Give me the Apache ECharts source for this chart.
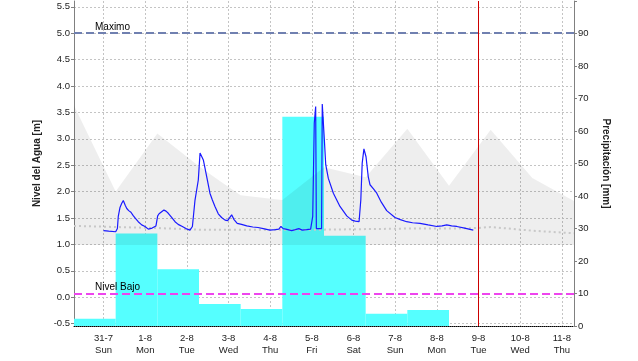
<!DOCTYPE html>
<html><head><meta charset="utf-8">
<script src="https://cdn.jsdelivr.net/npm/echarts@6/dist/echarts.min.js"></script>
<style>html,body{margin:0;padding:0;background:#fff}#c{width:638px;height:361px}</style>
</head><body><div id="c"></div>
<script>
// hours since 31-7 00:00
const dayTicks = [0,24,48,72,96,120,144,168,192,216,240,264];
const dayLabels = ['31-7','1-8','2-8','3-8','4-8','5-8','6-8','7-8','8-8','9-8','10-8','11-8'];
const weekdays = ['Sun','Mon','Tue','Wed','Thu','Fri','Sat','Sun','Mon','Tue','Wed','Thu'];
const levelTicks = [-0.5,0,0.5,1,1.5,2,2.5,3,3.5,4,4.5,5,5.5];

// daily precipitation (07:00 -> 07:00), mm
const rainStart = [-17,7,31,55,79,103,127,151,175];
const rainMm = [2.2,28.5,17.5,6.8,5.2,64.4,27.8,3.8,4.9];

// observed water level (m)
const levelH = [0,3,7,8,8.5,9.5,10.5,11.4,12.5,13.4,14.5,15.8,17,18.5,20,22,23.9,25.8,28,30.2,31.2,32,33,34.8,36,37.3,39,41.2,43,45.4,47.5,49.8,51.2,52.7,54.6,55.6,56.3,57.5,59.4,61.3,62.7,64.2,66.1,68,70,71.5,73.8,75.2,77,79.5,82.5,86,89,92,95.9,99,101,102.2,103.5,105,108.4,110.5,112.5,114.5,117,119.3,120.5,121.4,122.2,122.6,125.6,126,127.2,128,129.5,132.4,136.2,140.1,143,145,147.2,148.2,149,150,151.2,152.5,153.5,155.5,157.4,160,163.1,167.9,171,174.6,178,182.3,187,192,195,197.7,200.5,203.5,208,213];
const levelM = [1.26,1.25,1.24,1.30,1.53,1.70,1.78,1.83,1.74,1.68,1.64,1.61,1.55,1.49,1.43,1.37,1.34,1.29,1.31,1.35,1.54,1.58,1.61,1.65,1.63,1.59,1.52,1.43,1.38,1.34,1.30,1.27,1.34,1.84,2.22,2.73,2.74,2.60,2.29,1.97,1.84,1.72,1.58,1.51,1.46,1.45,1.56,1.47,1.40,1.38,1.35,1.33,1.32,1.30,1.27,1.28,1.29,1.34,1.30,1.29,1.26,1.28,1.30,1.27,1.28,1.29,1.53,3.30,3.61,1.30,1.30,3.66,2.98,2.51,2.25,1.97,1.72,1.54,1.46,1.44,1.43,1.84,2.54,2.81,2.66,2.28,2.13,2.05,1.97,1.80,1.64,1.51,1.47,1.43,1.41,1.40,1.37,1.34,1.35,1.37,1.35,1.34,1.31,1.27];

// historical envelope (m)
const bandH = [-17,7,31,55,67,79,103,127,151,175,199,223,247,271];
const bandLow = [0.99,0.99,0.99,0.99,0.99,0.99,0.99,0.99,0.99,0.99,0.99,0.99,0.99,0.99];
const bandHigh = [3.63,2.0,3.1,2.48,2.2,1.93,1.84,2.46,2.27,3.19,2.11,3.17,2.26,1.82];
// reference (mean) level (m)
const meanH = [-17,7,31,55,79,103,127,151,175,199,215,223,247,271];
const meanM = [1.35,1.33,1.31,1.28,1.28,1.28,1.28,1.29,1.30,1.30,1.31,1.33,1.26,1.21];

const maxLevel = 5.0, lowLevel = 0.07, nowH = 216;

const font = 'Liberation Sans, Arial, sans-serif';
const chart = echarts.init(document.getElementById('c'), null, {renderer:'canvas'});
const gridDot = {color:'#c4c4c4', type:[2,2], width:1};

chart.setOption({
  animation:false,
  backgroundColor:'#fff',
  grid:{left:74, right:64, top:1, bottom:35, containLabel:false},
  xAxis:{
    type:'value', min:-17, max:271,
    axisLine:{show:true, onZero:false, lineStyle:{color:'#000', type:[1,1], width:1}},
    axisTick:{show:false, customValues:dayTicks},
    axisLabel:{customValues:dayTicks, margin:6, fontSize:9.5, lineHeight:12, color:'#222', fontFamily:font,
      formatter:(v)=>{const i=dayTicks.indexOf(Math.round(v)); return i<0?'':dayLabels[i]+'\n'+weekdays[i];}},
    splitLine:{show:true, lineStyle:gridDot}
  },
  yAxis:[{
    type:'value', position:'left', min:-0.545, max:5.61,
    name:'Nivel del Agua [m]', nameLocation:'middle', nameGap:27, nameRotate:90,
    nameTextStyle:{fontSize:10, fontWeight:'bold', color:'#222', fontFamily:font},
    axisLine:{show:true, onZero:false, lineStyle:{color:'#808080'}},
    axisTick:{show:true, length:3, customValues:levelTicks, lineStyle:{color:'#808080'}},
    axisLabel:{customValues:levelTicks, margin:4, fontSize:9.5, color:'#222', fontFamily:font, formatter:(v)=>v.toFixed(1)},
    splitLine:{show:true, lineStyle:gridDot}
  },{
    type:'value', position:'right', min:0, max:100, interval:10,
    name:'Precipitación [mm]', nameLocation:'middle', nameGap:27, nameRotate:-90,
    nameTextStyle:{fontSize:10, fontWeight:'bold', color:'#222', fontFamily:font},
    axisLine:{show:true, onZero:false, lineStyle:{color:'#808080'}},
    axisTick:{show:true, length:3, lineStyle:{color:'#808080'}},
    axisLabel:{margin:4, fontSize:9.5, color:'#222', fontFamily:font, formatter:(v)=>v>=100?'':String(v)},
    splitLine:{show:false}
  }],
  series:[
    {
      type:'custom', name:'Precipitación', yAxisIndex:1, z:1,
      data: rainStart.map((s,i)=>[s, s+24, rainMm[i]]),
      encode:{x:[0,1], y:2},
      renderItem:(params, api)=>{
        const p0 = api.coord([api.value(0), api.value(2)]);
        const p1 = api.coord([api.value(1), 0]);
        return {type:'rect', shape:{x:p0[0], y:p0[1], width:p1[0]-p0[0], height:p1[1]-p0[1]}, style:{fill:'#55ffff'}};
      }
    },
    {
      type:'custom', name:'band', z:2, silent:true,
      data: bandH.map((h,i)=>[h, bandLow[i], bandHigh[i]]),
      encode:{x:0, y:[1,2]},
      renderItem:(params, api)=>{
        if (params.dataIndex !== 0) return;
        const top = bandH.map((h,i)=>api.coord([h, bandHigh[i]]));
        const bot = bandH.map((h,i)=>api.coord([h, bandLow[i]])).reverse();
        return {type:'polygon', shape:{points: top.concat(bot)}, style:{fill:'rgba(0,0,0,0.065)'}};
      }
    },
    {
      type:'line', name:'mean', z:3, symbol:'none', silent:true,
      data: meanH.map((h,i)=>[h, meanM[i]]),
      lineStyle:{color:'#c8c8c8', width:2, type:[2,3]}
    },
    {
      type:'line', name:'Nivel', z:5, symbol:'none',
      data: levelH.map((h,i)=>[h, levelM[i]]),
      lineStyle:{color:'#1a1aff', width:1.2},
      markLine:{
        silent:true, symbol:'none', z:4,
        data:[
          {yAxis:maxLevel, lineStyle:{color:'#7080b0', width:2, type:[8,4]},
           label:{show:true, formatter:'Maximo', position:'insideStartTop', distance:[21,1], fontSize:10, color:'#000', fontFamily:font}},
          {yAxis:lowLevel, lineStyle:{color:'#ee44ee', width:2, type:[8,4]},
           label:{show:true, formatter:'Nivel Bajo', position:'insideStartTop', distance:[21,1], fontSize:10, color:'#000', fontFamily:font}},
          {xAxis:nowH, lineStyle:{color:'#cc0000', width:1, type:'solid'}, label:{show:false}}
        ]
      }
    }
  ]
});
</script></body></html>
